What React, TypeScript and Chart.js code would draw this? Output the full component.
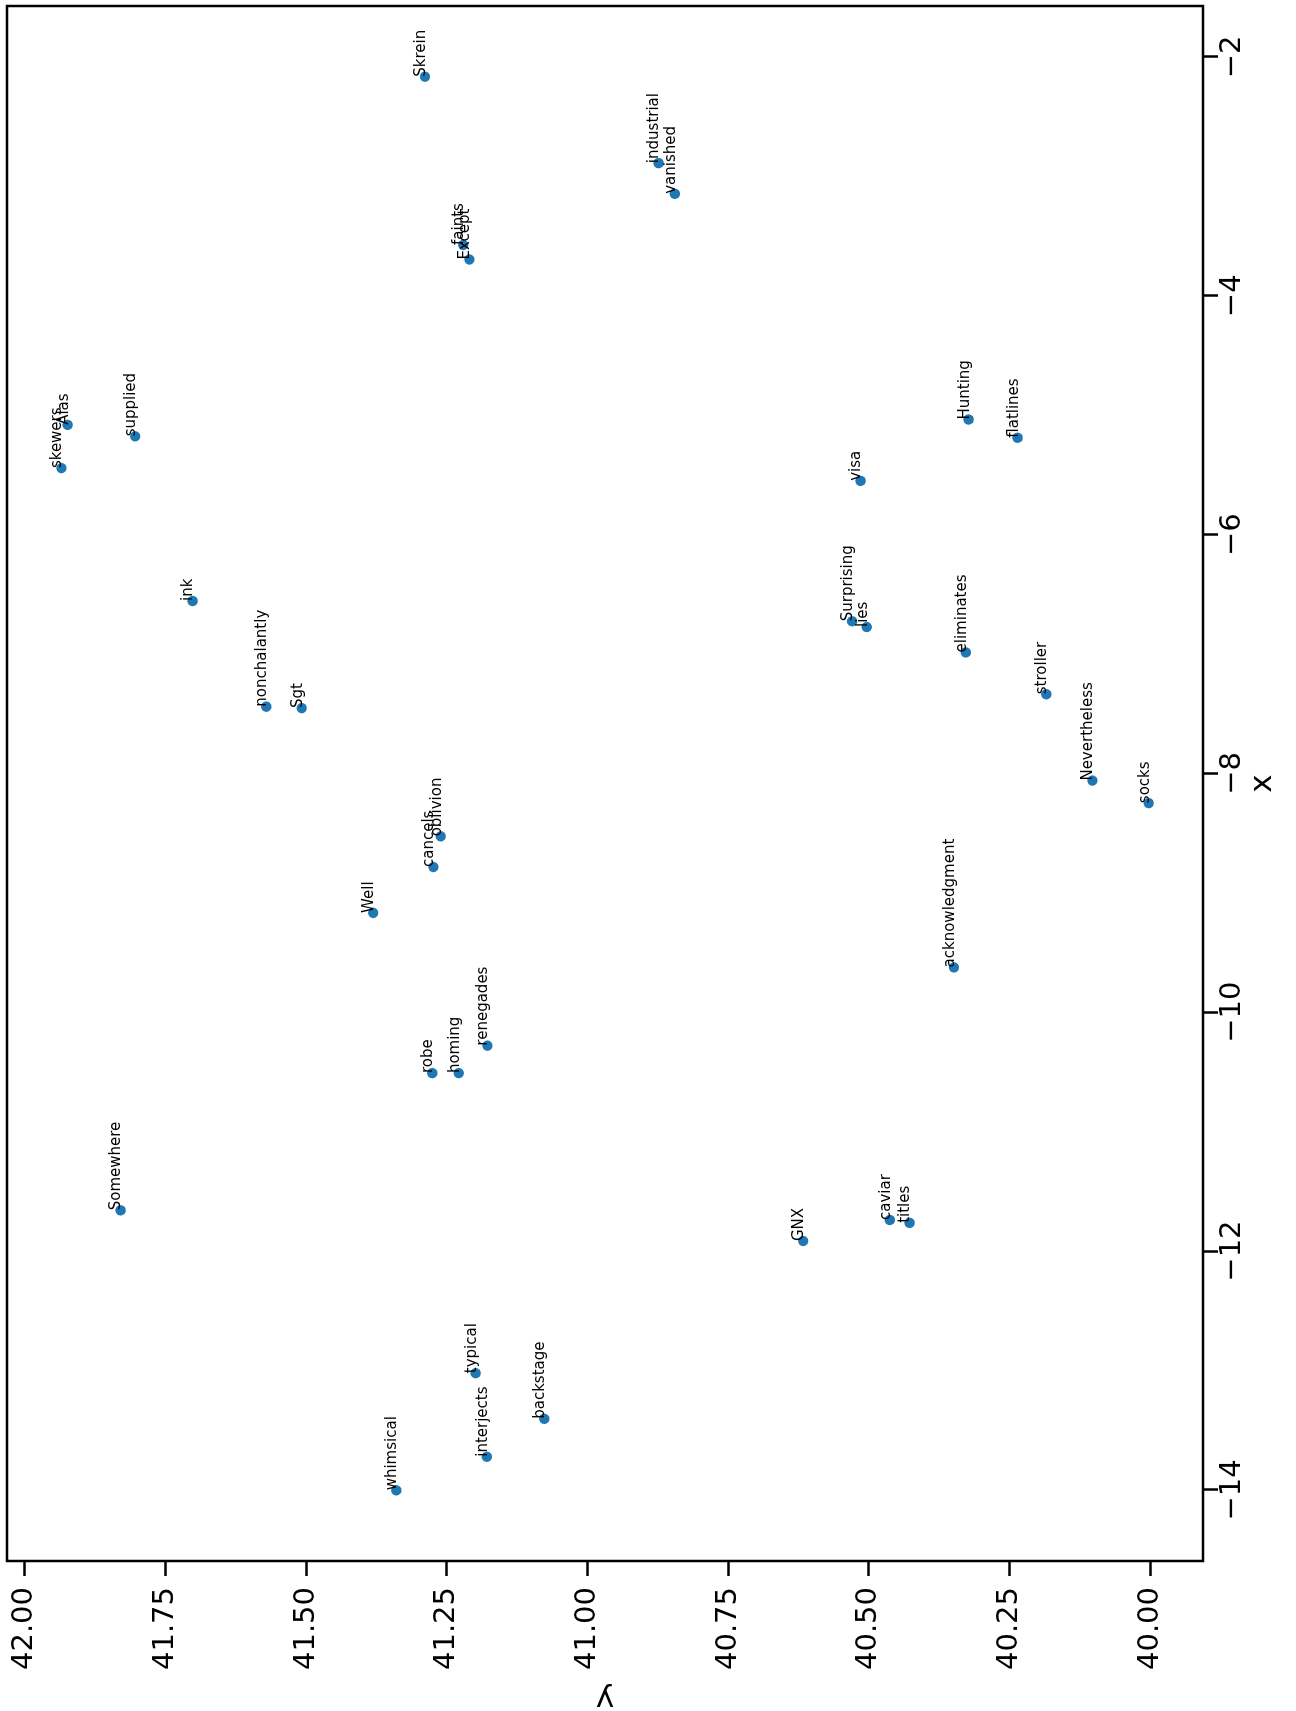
import React, { useEffect, useRef } from "react";
import { Chart, registerables } from "chart.js";

Chart.register(...registerables);

// Word labels for each point
const words = [
  "Skrein", "industrial", "vanished", "faints", "Except", "Alas", "skewers", "supplied",
  "Hunting", "flatlines", "visa", "ink", "nonchalantly", "Sgt", "Surprising", "lies",
  "eliminates", "stroller", "Nevertheless", "socks", "oblivion", "cancels", "Well",
  "acknowledgment", "renegades", "robe", "homing", "Somewhere", "GNX", "caviar", "titles",
  "typical", "backstage", "interjects", "whimsical",
];

// x coordinate of each point
const xValues = [
  -2.165, -2.889, -3.146, -3.574, -3.696, -5.081, -5.443, -5.177,
  -5.036, -5.189, -5.55, -6.556, -7.441, -7.453, -6.726, -6.774,
  -6.987, -7.337, -8.06, -8.249, -8.527, -8.784, -9.168,
  -9.625, -10.28, -10.51, -10.51, -11.659, -11.916, -11.74, -11.764,
  -13.023, -13.405, -13.723, -14.004,
];

// y coordinate of each point
const yValues = [
  41.289, 40.874, 40.845, 41.221, 41.21, 41.924, 41.935, 41.804,
  40.323, 40.236, 40.515, 41.702, 41.571, 41.508, 40.53, 40.504,
  40.328, 40.185, 40.103, 40.003, 41.261, 41.274, 41.381,
  40.349, 41.178, 41.276, 41.229, 41.83, 40.617, 40.463, 40.428,
  41.199, 41.077, 41.179, 41.34,
];

const xTickValues = [-14, -12, -10, -8, -6, -4, -2];
const yTickValues = [40, 40.25, 40.5, 40.75, 41, 41.25, 41.5, 41.75, 42];
const xAxisTitle = "x";
const yAxisTitle = "y";

const W = 1711;
const H = 1296;
const FONT = "'DejaVu Sans', 'Liberation Sans', sans-serif";

function padRange(vals: number[], frac = 0.05): [number, number] {
  const lo = Math.min(...vals);
  const hi = Math.max(...vals);
  const m = (hi - lo) * frac;
  return [lo - m, hi + m];
}

export default function App() {
  const ref = useRef<HTMLCanvasElement | null>(null);

  useEffect(() => {
    if (!ref.current) return;
    const [xMin, xMax] = padRange(xValues);
    const [yMin, yMax] = padRange(yValues);

    const labelPlugin = {
      id: "pointLabels",
      afterDatasetsDraw(chart: any) {
        const ctx = chart.ctx;
        const meta = chart.getDatasetMeta(0);
        ctx.save();
        ctx.font = `15px ${FONT}`;
        ctx.fillStyle = "#000";
        ctx.textAlign = "left";
        ctx.textBaseline = "alphabetic";
        meta.data.forEach((el: any, i: number) => {
          ctx.fillText(words[i], el.x, el.y);
        });
        ctx.restore();
      },
    };

    const framePlugin = {
      id: "frame",
      afterDraw(chart: any) {
        const { ctx, chartArea: a } = chart;
        ctx.save();
        ctx.strokeStyle = "#000";
        ctx.lineWidth = 2.5;
        ctx.strokeRect(a.left, a.top, a.right - a.left, a.bottom - a.top);
        ctx.restore();
      },
    };

    const chart = new Chart(ref.current, {
      type: "scatter",
      data: {
        datasets: [
          {
            label: "words",
            data: xValues.map((x, i) => ({ x, y: yValues[i] })),
            backgroundColor: "#1f77b4",
            borderColor: "#1f77b4",
            borderWidth: 0,
            pointRadius: 5.2,
            pointHoverRadius: 5.2,
          },
        ],
      },
      options: {
        animation: false,
        responsive: false,
        devicePixelRatio: 1,
        layout: { padding: { top: 7, right: 6, bottom: 0, left: 0 } },
        plugins: {
          legend: { display: false },
          tooltip: { enabled: false },
        },
        scales: {
          x: {
            type: "linear",
            position: "bottom",
            min: xMin,
            max: xMax,
            afterBuildTicks: (scale: any) => {
              scale.ticks = xTickValues.map((value) => ({ value }));
            },
            afterFit: (scale: any) => {
              scale.height = 93;
              scale.paddingLeft = 0;
              scale.paddingRight = 0;
            },
            border: { display: false },
            grid: {
              display: true,
              drawOnChartArea: false,
              drawTicks: true,
              tickLength: 15,
              tickWidth: 2.5,
              tickColor: "#000",
            },
            ticks: {
              autoSkip: false,
              maxRotation: 0,
              minRotation: 0,
              padding: 0,
              color: "#000",
              font: { size: 29, family: FONT, lineHeight: 1 },
              callback: (v: any) => {
                const n = Number(v);
                return (n < 0 ? "\u2212" : "") + String(Math.abs(n));
              },
            },
            title: {
              display: true,
              text: xAxisTitle,
              color: "#000",
              font: { size: 31, family: FONT, lineHeight: 0.84 },
              padding: { top: 0, bottom: 20 },
            },
          },
          y: {
            type: "linear",
            position: "left",
            min: yMin,
            max: yMax,
            afterBuildTicks: (scale: any) => {
              scale.ticks = yTickValues.map((value) => ({ value }));
            },
            afterFit: (scale: any) => {
              scale.width = 150;
              scale.paddingTop = 0;
              scale.paddingBottom = 0;
            },
            border: { display: false },
            grid: {
              display: true,
              drawOnChartArea: false,
              drawTicks: true,
              tickLength: 15,
              tickWidth: 2.5,
              tickColor: "#000",
            },
            ticks: {
              autoSkip: false,
              padding: 11,
              color: "#000",
              font: { size: 29, family: FONT, lineHeight: 1 },
              callback: (v: any) => Number(v).toFixed(2),
            },
            title: {
              display: true,
              text: yAxisTitle,
              color: "#000",
              font: { size: 31, family: FONT, lineHeight: 0.84 },
              padding: { top: 0, bottom: 0 },
            },
          },
        },
      } as any,
      plugins: [labelPlugin, framePlugin],
    });

    return () => chart.destroy();
  }, []);

  return (
    <div
      style={{
        position: "fixed",
        left: 0,
        top: 0,
        width: 1296,
        height: 1711,
        overflow: "hidden",
        background: "#fff",
      }}
    >
      <div
        style={{
          position: "absolute",
          left: 0,
          top: 0,
          width: W,
          height: H,
          transformOrigin: "0 0",
          transform: `translate(0px, ${W}px) rotate(-90deg)`,
        }}
      >
        <canvas
          ref={ref}
          width={W}
          height={H}
          style={{ display: "block", width: W, height: H }}
        />
      </div>
    </div>
  );
}
